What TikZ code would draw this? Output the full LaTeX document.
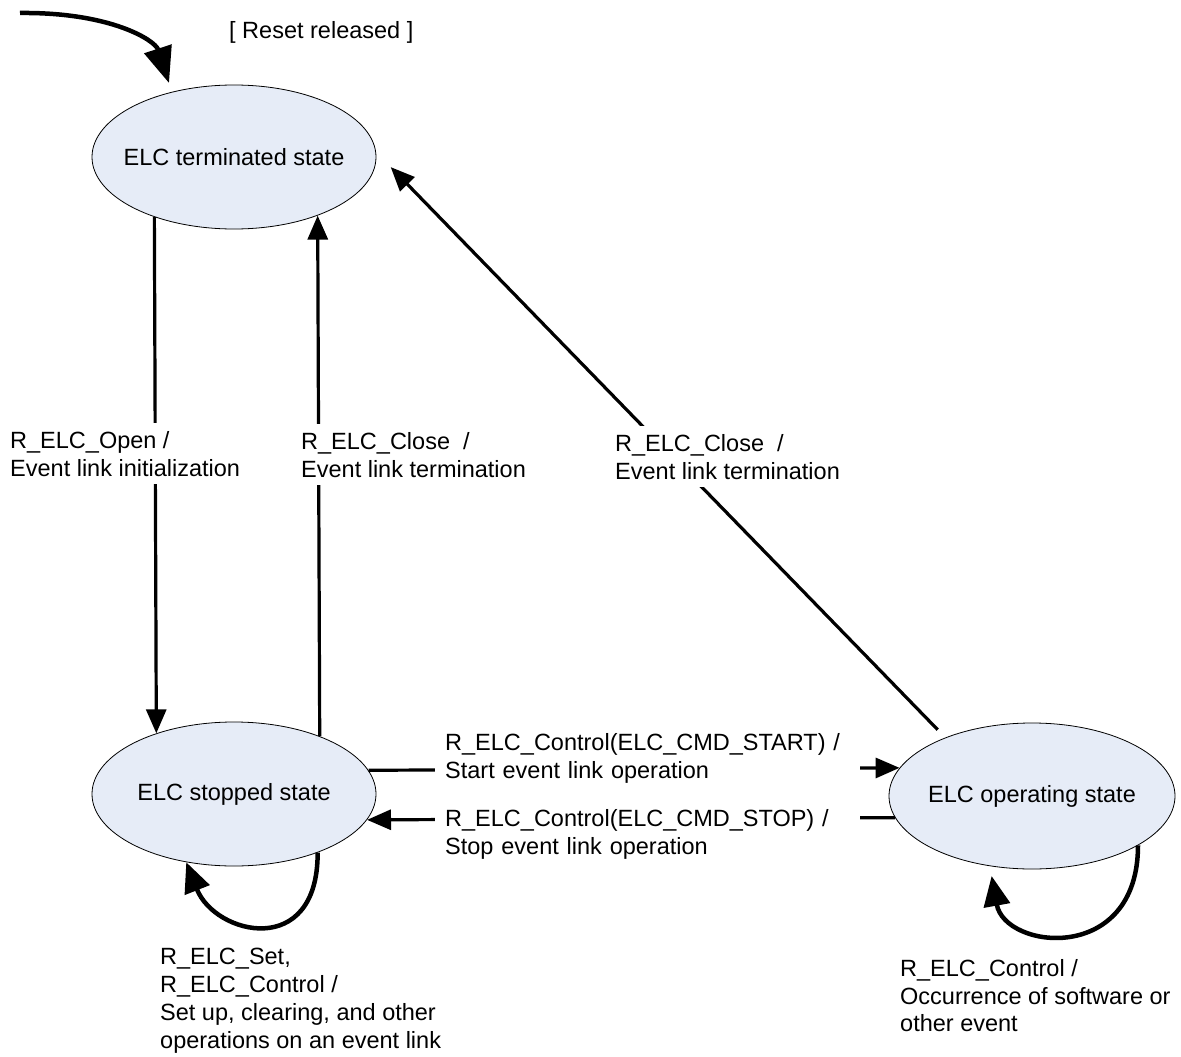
\documentclass[tikz,border=0pt]{standalone}
\usepackage{fontspec}
\setmainfont{Liberation Sans}
\usetikzlibrary{shapes.geometric,arrows.meta}
\definecolor{statefill}{HTML}{E6ECF7}
\begin{document}
\begin{tikzpicture}[x=1pt,y=-1pt,
  lblfont/.style={font=\fontsize{23.5}{27.8}\selectfont},
  state/.style={ellipse, draw=black, line width=0.8pt, fill=statefill,
    minimum width=284pt, minimum height=144pt, inner sep=0pt, lblfont},
  lbl/.style={fill=white, inner xsep=10pt, inner ysep=8pt, align=left,
    anchor=north west, lblfont},
  tr/.style={line width=3.2pt, -{Triangle[length=24pt,width=20pt]}},
  loopy/.style={line width=4.5pt, -{Triangle[length=30pt,width=26pt]}},
  initarrow/.style={line width=4.5pt, -{Triangle[length=36pt,width=28pt]}}
]
\useasboundingbox (0,0) rectangle (1181,1057);

% states
\node[state] (term) at (234,157) {\makebox[0pt]{ELC terminated state}};
\node[state] (stop) at (234,794) {\makebox[0pt]{ELC stopped state}};
\node[state, minimum width=286pt, minimum height=146pt] (oper) at (1032,796) {\makebox[0pt]{ELC operating state}};

% initial transition
\coordinate (init) at (20,13);
\coordinate (initend) at (169,83);
\draw[initarrow] (init) .. controls (110,12) and (155,40) .. (initend);

% transitions
\draw[tr] (term.217.1) -- (stop.142.7);
\draw[tr] (stop.34.9) -- (term.325.4);
\draw[tr, shorten <=11pt, shorten >=21pt] (oper.146.8) -- (term.2);
\draw[tr] (stop.10.6) -- (oper.168);
\draw[tr] (oper.189.6) -- (stop.-11);

% self loops
\draw[loopy] (stop.-35.2) .. controls (318,960) and (215,935) .. (stop.235.7);
\draw[loopy, shorten >=10pt] (oper.-25.5) .. controls (1138,965) and (1005,950) .. (oper.239.2);

% labels
\node[lbl] (reset) at (219,13.5) {[ Reset released ]};
\node[lbl] (lopen) at (0,423) {R\_ELC\_Open /\\Event link initialization};
\node[lbl] (lclose1) at (291,424) {R\_ELC\_Close\ \ /\\Event link termination};
\node[lbl] (lclose2) at (605,426) {R\_ELC\_Close\ \ /\\Event link termination};
\node[lbl, text width=405pt] (lstart) at (435,725) {R\_ELC\_Control(ELC\_CMD\_START) /\\Start event link operation};
\node[lbl, text width=405pt] (lstopop) at (435,801) {R\_ELC\_Control(ELC\_CMD\_STOP) /\\Stop event link operation};
\node[lbl] (lset) at (150,940) {R\_ELC\_Set,\\R\_ELC\_Control /\\Set up, clearing, and other\\operations on an event link};
\node[lbl] (lop) at (890,951) {R\_ELC\_Control /\\Occurrence of software or\\other event};
\end{tikzpicture}
\end{document}
